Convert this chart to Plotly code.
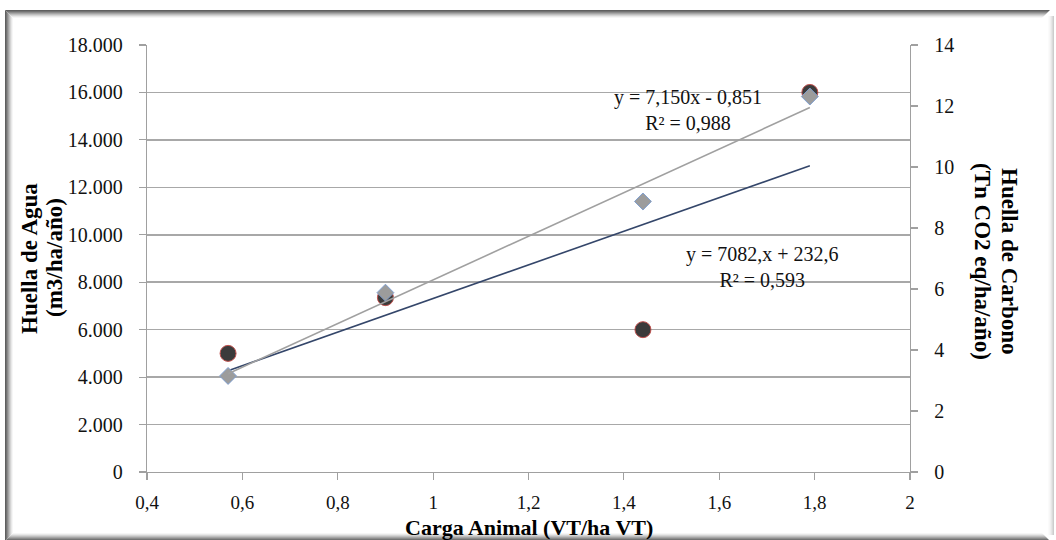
import plotly.graph_objects as go

# ---------------- data ----------------
carga_animal = [0.57, 0.90, 1.44, 1.79]               # VT/ha VT
huella_agua = [5000, 7350, 6000, 16000]               # m3/ha/año
huella_carbono = [3.15, 5.88, 8.87, 12.31]             # Tn CO2 eq/ha/año

# trendline equations shown on the chart
agua_slope, agua_intercept = 7082.0, 232.6
carbono_slope, carbono_intercept = 7.150, -0.851
eq_agua = "y = 7082,x + 232,6<br>R² = 0,593"
eq_carbono = "y = 7,150x - 0,851<br>R² = 0,988"

x_ticks = [0.4, 0.6, 0.8, 1.0, 1.2, 1.4, 1.6, 1.8, 2.0]
x_tick_labels = ["0,4", "0,6", "0,8", "1", "1,2", "1,4", "1,6", "1,8", "2"]

x_title = "Carga Animal (VT/ha VT)"
y_title = ["Huella de Agua", "(m3/ha/año)"]
y2_title = ["Huella de Carbono", "(Tn CO2 eq/ha/año)"]

# ---------------- layout geometry ----------------
W, H = 1056, 540
ML, MR, MT, MB = 147, 146, 45, 68
PW, PH = W - ML - MR, H - MT - MB


def px(p):
    return (p - ML) / PW


def py(p):
    return (H - MB - p) / PH


SERIF = "Liberation Serif, Times New Roman, serif"

x_fit = [min(carga_animal), max(carga_animal)]
agua_fit = [agua_slope * v + agua_intercept for v in x_fit]
carbono_fit = [carbono_slope * v + carbono_intercept for v in x_fit]

fig = go.Figure()

fig.add_trace(go.Scatter(
    x=carga_animal, y=huella_agua, mode="markers", yaxis="y",
    marker=dict(symbol="circle", size=16, color="#3b3b3b",
                line=dict(color="#c0504d", width=1)),
    showlegend=False, hoverinfo="skip"))

fig.add_trace(go.Scatter(
    x=x_fit, y=agua_fit, mode="lines", yaxis="y",
    line=dict(color="#34466a", width=1.6),
    showlegend=False, hoverinfo="skip"))

fig.add_trace(go.Scatter(
    x=carga_animal, y=huella_carbono, mode="markers", yaxis="y2",
    marker=dict(symbol="diamond", size=13, color="#9c9c9c",
                line=dict(color="#7f9fd0", width=1)),
    showlegend=False, hoverinfo="skip"))

fig.add_trace(go.Scatter(
    x=x_fit, y=carbono_fit, mode="lines", yaxis="y2",
    line=dict(color="#a0a0a0", width=1.6),
    showlegend=False, hoverinfo="skip"))

annotations = [
    dict(x=1.534, y=15260, xref="x", yref="y", text=eq_carbono, showarrow=False,
         align="center", font=dict(family=SERIF, size=20, color="#111111")),
    dict(x=1.690, y=8662, xref="x", yref="y", text=eq_agua, showarrow=False,
         align="center", font=dict(family=SERIF, size=20, color="#111111")),
    dict(x=px(529), y=py(527), xref="paper", yref="paper", text=f"<b>{x_title}</b>",
         showarrow=False, xanchor="center", yanchor="middle",
         font=dict(family=SERIF, size=22, color="#000000")),
    dict(x=px(29), y=py(258), xref="paper", yref="paper", text=f"<b>{y_title[0]}</b>",
         showarrow=False, textangle=-90, xanchor="center", yanchor="middle",
         font=dict(family=SERIF, size=23, color="#000000")),
    dict(x=px(54), y=py(258), xref="paper", yref="paper", text=f"<b>{y_title[1]}</b>",
         showarrow=False, textangle=-90, xanchor="center", yanchor="middle",
         font=dict(family=SERIF, size=23, color="#000000")),
    dict(x=px(1010), y=py(261), xref="paper", yref="paper", text=f"<b>{y2_title[0]}</b>",
         showarrow=False, textangle=90, xanchor="center", yanchor="middle",
         font=dict(family=SERIF, size=23, color="#000000")),
    dict(x=px(983), y=py(261), xref="paper", yref="paper", text=f"<b>{y2_title[1]}</b>",
         showarrow=False, textangle=90, xanchor="center", yanchor="middle",
         font=dict(family=SERIF, size=23, color="#000000")),
]

# chart-area frame with soft shadowed edges
shapes = []
L, T, R, B = 5, 10, 1050, 541
dark = [95, 115, 140, 165, 190, 212, 232, 246]
light = [205, 218, 230, 240, 247, 251]
for i, g in enumerate(dark):
    c = f"rgb({g},{g},{g})"
    o = i + 0.5
    shapes.append(dict(type="line", xref="paper", yref="paper", layer="below",
                       x0=px(L + o), x1=px(L + o), y0=py(T + o), y1=py(B - o),
                       line=dict(color=c, width=1)))
    shapes.append(dict(type="line", xref="paper", yref="paper", layer="below",
                       x0=px(L + o), x1=px(R - o), y0=py(T + o), y1=py(T + o),
                       line=dict(color=c, width=1)))
    shapes.append(dict(type="line", xref="paper", yref="paper", layer="below",
                       x0=px(L + o), x1=px(R - o), y0=py(B - o), y1=py(B - o),
                       line=dict(color=c, width=1)))
for i, g in enumerate(light):
    c = f"rgb({g},{g},{g})"
    o = i + 0.5
    shapes.append(dict(type="line", xref="paper", yref="paper", layer="below",
                       x0=px(R + 4 - o), x1=px(R + 4 - o), y0=py(T + 6), y1=py(B - 6),
                       line=dict(color=c, width=1)))

fig.update_layout(
    width=W, height=H,
    margin=dict(l=ML, r=MR, t=MT, b=MB, pad=0),
    paper_bgcolor="white", plot_bgcolor="rgba(0,0,0,0)",
    separators=",.",
    showlegend=False,
    font=dict(family=SERIF, color="#000000"),
    xaxis=dict(range=[0.4, 2.0], tickvals=x_ticks, ticktext=x_tick_labels,
               showgrid=False, zeroline=False, showline=True,
               linecolor="#a0a0a0", linewidth=1.2,
               ticks="outside", ticklen=7, tickcolor="#a0a0a0", tickwidth=1.2,
               ticklabelstandoff=6,
               tickfont=dict(family=SERIF, size=19, color="#111111")),
    yaxis=dict(range=[0, 18000], dtick=2000, tickformat=",d",
               showgrid=True, gridcolor="#a8a8a8", gridwidth=1.5,
               zeroline=False, showline=True, linecolor="#a0a0a0", linewidth=1.2,
               ticks="outside", ticklen=7, tickcolor="#a0a0a0", tickwidth=1.2,
               ticklabelstandoff=12,
               tickfont=dict(family=SERIF, size=20, color="#111111")),
    yaxis2=dict(range=[0, 14], dtick=2, overlaying="y", side="right",
                showgrid=False, zeroline=False, showline=True,
                linecolor="#a0a0a0", linewidth=1.2,
                ticks="outside", ticklen=7, tickcolor="#a0a0a0", tickwidth=1.2,
                ticklabelstandoff=12,
                tickfont=dict(family=SERIF, size=20, color="#111111")),
    annotations=annotations,
    shapes=shapes,
)

fig.write_html(
    "out.html",
    config={"displayModeBar": False, "staticPlot": True},
    post_script="document.body.style.margin='0';document.body.style.overflow='hidden';",
)
